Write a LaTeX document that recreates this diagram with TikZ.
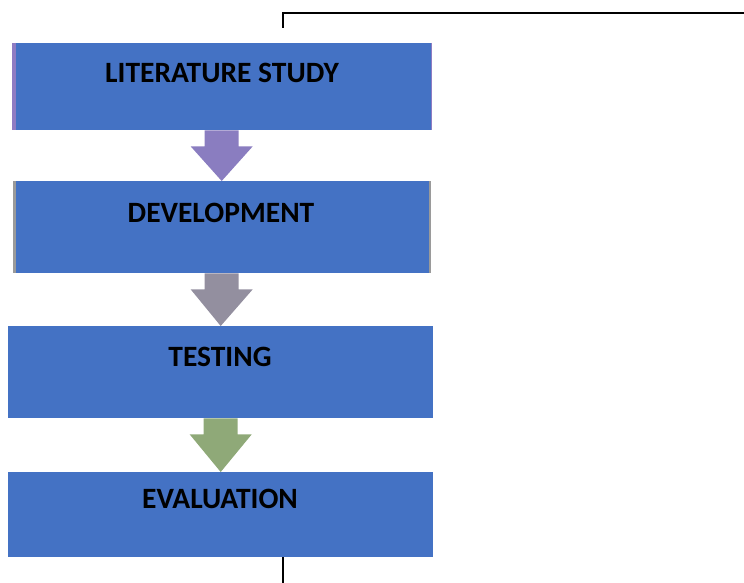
\documentclass[tikz,border=0pt]{standalone}
\usepackage{fontspec}
\setmainfont{Carlito}
\usetikzlibrary{calc}
\definecolor{boxblue}{HTML}{4472C4}
\definecolor{arrpurple}{HTML}{8A7DC0}
\definecolor{arrgray}{HTML}{938F9F}
\definecolor{arrgreen}{HTML}{8FA978}
\definecolor{edgepurple}{HTML}{8E7CC3}
\definecolor{edgegray}{HTML}{9A9A9A}
\tikzset{
  stagebox/.style={fill=boxblue, minimum height=#1, inner sep=0pt, anchor=north west},
  stagetext/.style={font=\bfseries\fontsize{29.5}{32}\selectfont, text=black},
}
\newcommand{\blockarrow}[3]{%
  \fill[#3] ($(#1.south)+(-17,0)$) -- ($(#1.south)+(17,0)$) -- ($(#1.south)+(17,16)$)
    -- ($(#1.south)+(31,16)$) -- (#2.north) -- ($(#1.south)+(-31,16)$)
    -- ($(#1.south)+(-17,16)$) -- cycle;}
\begin{document}
\begin{tikzpicture}[x=1pt,y=-1pt]
  \useasboundingbox (0,0) rectangle (744,583);
  % stages
  \node[stagebox=87pt, minimum width=419pt] (lit) at (12,43) {};
  \node[stagebox=92pt, minimum width=417pt] (dev) at (13,181) {};
  \node[stagebox=92pt, minimum width=425pt] (test) at (8,326) {};
  \node[stagebox=85pt, minimum width=425pt] (eval) at (8,472) {};
  \draw[edgepurple, line width=4pt] ($(lit.north west)+(2,0)$) -- ($(lit.south west)+(2,0)$);
  \draw[edgepurple, line width=1.5pt] (lit.north east) -- (lit.south east);
  \draw[edgegray, line width=3pt] ($(dev.north west)+(1.5,0)$) -- ($(dev.south west)+(1.5,0)$);
  \draw[edgegray, line width=2pt] (dev.north east) -- (dev.south east);
  \node[stagetext] at (222,73) {LITERATURE STUDY};
  \node[stagetext] at (221,213) {DEVELOPMENT};
  \node[stagetext] at (220,357) {TESTING};
  \node[stagetext] at (220,499) {EVALUATION};
  % block arrows
  \blockarrow{lit}{dev}{arrpurple}
  \blockarrow{dev}{test}{arrgray}
  \blockarrow{test}{eval}{arrgreen}
  % bracket lines
  \coordinate (topstart) at (283,28);
  \coordinate (topcorner) at (283,13);
  \coordinate (topend) at (744,13);
  \coordinate (botend) at (283,583);
  \draw[line width=1.5pt] (topstart) -- (topcorner) -- (topend);
  \draw[line width=1.5pt] (botend |- eval.south) -- (botend);
\end{tikzpicture}
\end{document}
